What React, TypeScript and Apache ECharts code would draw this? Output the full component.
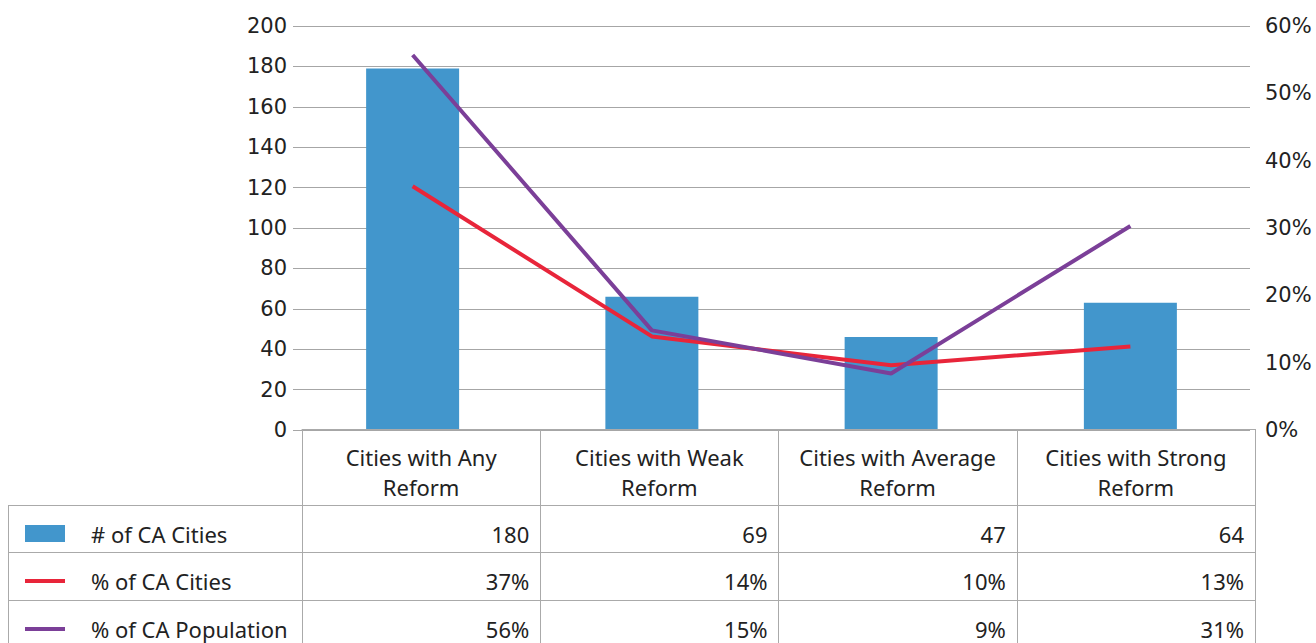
import React, { useEffect, useRef } from "react";
import * as echarts from "echarts";

const categories = [
  "Cities with Any\nReform",
  "Cities with Weak\nReform",
  "Cities with Average\nReform",
  "Cities with Strong\nReform",
];
// values as drawn by the marks
const cityCounts = [179, 66, 46, 63];
const pctCities = [36.2, 13.9, 9.6, 12.4];
const pctPopulation = [55.7, 14.8, 8.4, 30.3];
// values as printed in the data table
const tableCityCounts = ["180", "69", "47", "64"];
const tablePctCities = ["37%", "14%", "10%", "13%"];
const tablePctPopulation = ["56%", "15%", "9%", "31%"];
const seriesNames = ["# of CA Cities", "% of CA Cities", "% of CA Population"];
const leftTicks = { min: 0, max: 200, interval: 20 };
const rightTicks = { min: 0, max: 60, interval: 10 };

const BLUE = "#4296cc";
const RED = "#e8253a";
const PURPLE = "#7b3f98";
const BORDER = "#aaaaaa";
const TEXT = "#222222";
const TABLE_FONT = "Noto Sans";
const AXIS_FONT = "DejaVu Sans";

export default function App() {
  const ref = useRef<HTMLDivElement>(null);
  useEffect(() => {
    if (!ref.current) return;
    const chart = echarts.init(ref.current, null, { renderer: "svg" });
    const tableTop = 429;
    chart.setOption({
      animation: false,
      grid: [
        { left: 293, right: 66, top: 26, height: 404, containLabel: false },
        { left: 302, right: 61, top: tableTop - 1, height: 1, containLabel: false },
      ],
      xAxis: [
        {
          type: "category",
          gridIndex: 0,
          data: categories,
          boundaryGap: true,
          axisLine: { show: false },
          axisTick: { show: false },
          axisLabel: { show: false },
        },
        {
          type: "category",
          gridIndex: 1,
          data: categories,
          boundaryGap: true,
          axisLine: { show: true, lineStyle: { color: BORDER, width: 1 } },
          axisTick: { show: true, alignWithLabel: false, length: 215, lineStyle: { color: BORDER, width: 1 } },
          axisLabel: {
            interval: 0,
            margin: 13,
            color: TEXT,
            fontFamily: TABLE_FONT,
            fontSize: 22,
            lineHeight: 30,
            align: "center",
          },
          z: 5,
        },
      ],
      yAxis: [
        {
          type: "value",
          gridIndex: 0,
          ...leftTicks,
          axisLine: { show: false },
          axisTick: { show: false },
          axisLabel: { color: TEXT, fontFamily: AXIS_FONT, fontSize: 21, margin: 6 },
          splitLine: { show: true, lineStyle: { color: "#a6a6a6", width: 1 } },
        },
        {
          type: "value",
          gridIndex: 0,
          ...rightTicks,
          position: "right",
          axisLine: { show: false },
          axisTick: { show: false },
          axisLabel: { color: TEXT, fontFamily: AXIS_FONT, fontSize: 21, margin: 15, formatter: "{value}%" },
          splitLine: { show: false },
        },
        {
          type: "value",
          gridIndex: 1,
          show: false,
        },
      ],
      series: [
        {
          name: seriesNames[0],
          type: "bar",
          data: cityCounts,
          barWidth: 93,
          itemStyle: { color: BLUE },
          xAxisIndex: 0,
          yAxisIndex: 0,
        },
        {
          name: seriesNames[1],
          type: "line",
          data: pctCities,
          xAxisIndex: 0,
          yAxisIndex: 1,
          symbol: "none",
          lineStyle: { color: RED, width: 4 },
          z: 3,
        },
        {
          name: seriesNames[2],
          type: "line",
          data: pctPopulation,
          xAxisIndex: 0,
          yAxisIndex: 1,
          symbol: "none",
          lineStyle: { color: PURPLE, width: 4 },
          z: 4,
        },
      ],
    });

    // Build the data table below the plot
    const rowValues = [tableCityCounts, tablePctCities, tablePctPopulation];
    const colCenters = categories.map((_, i) => chart.convertToPixel({ xAxisIndex: 1 }, i) as number);
    const band = colCenters.length > 1 ? colCenters[1] - colCenters[0] : 238;
    const tableLeft = 8;
    const tableRight = colCenters[colCenters.length - 1] + band / 2;
    const rowLines = [505, 552, 600];
    const rowCenters = [534, 581, 629];
    const elements: any[] = [];
    rowLines.forEach((y) => {
      elements.push({
        type: "line",
        shape: { x1: tableLeft, y1: y + 0.5, x2: tableRight, y2: y + 0.5 },
        style: { stroke: BORDER, lineWidth: 1 },
      });
    });
    elements.push({
      type: "line",
      shape: { x1: tableLeft + 0.5, y1: rowLines[0], x2: tableLeft + 0.5, y2: 643 },
      style: { stroke: BORDER, lineWidth: 1 },
    });
    const colors = [BLUE, RED, PURPLE];
    seriesNames.forEach((name, r) => {
      const cy = rowCenters[r];
      if (r === 0) {
        elements.push({ type: "rect", shape: { x: 25, y: cy - 9, width: 40, height: 17 }, style: { fill: colors[r] } });
      } else {
        elements.push({ type: "rect", shape: { x: 25, y: cy - 2, width: 40, height: 4 }, style: { fill: colors[r] } });
      }
      elements.push({
        type: "text",
        x: 91,
        y: cy,
        style: { text: name, fill: TEXT, font: `22px '${TABLE_FONT}'`, verticalAlign: "middle", align: "left" },
      });
      rowValues[r].forEach((val, c) => {
        elements.push({
          type: "text",
          x: colCenters[c] + band / 2 - 11,
          y: cy,
          style: { text: val, fill: TEXT, font: `22px '${TABLE_FONT}'`, verticalAlign: "middle", align: "right" },
        });
      });
    });
    chart.setOption({ graphic: { elements } });
    return () => chart.dispose();
  }, []);
  return <div ref={ref} style={{ position: "absolute", left: 0, top: 0, width: 1316, height: 643 }} />;
}
